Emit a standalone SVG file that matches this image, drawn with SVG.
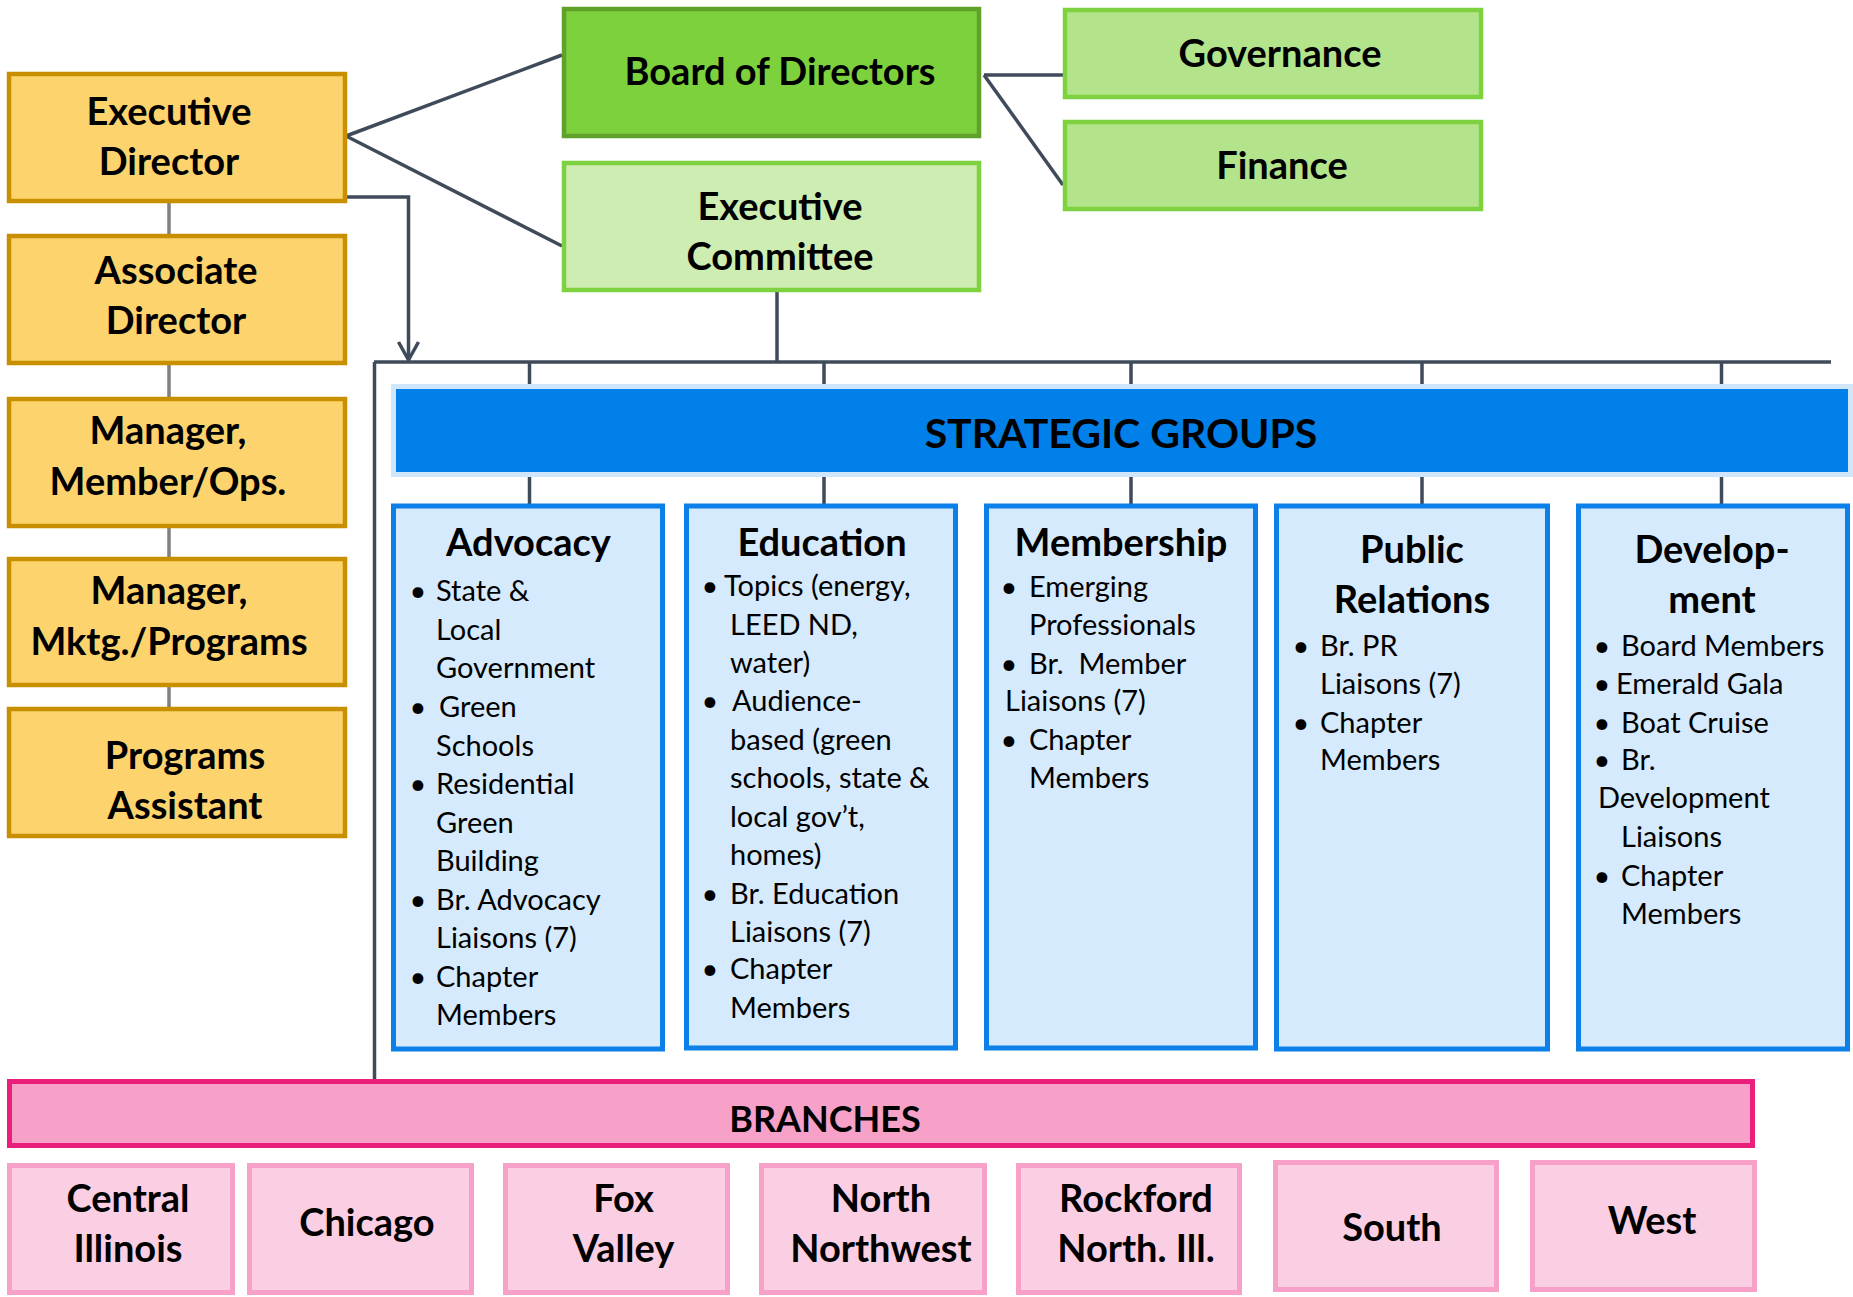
<svg xmlns="http://www.w3.org/2000/svg" width="1853" height="1297" viewBox="0 0 1853 1297">
<style>
.staff{fill:#fdd36d;stroke:#c89000;stroke-width:4.5}
.board{fill:#7dd13c;stroke:#5fa12b;stroke-width:4.5}
.ec{fill:#cdedb3;stroke:#7ed23f;stroke-width:4.5}
.comm{fill:#b3e38a;stroke:#7ed23f;stroke-width:4.5}
.col{fill:#d5eafc;stroke:#0a80e8;stroke-width:5}
.branchbar{fill:#f7a0c8;stroke:#ea1f7b;stroke-width:5}
.branch{fill:#fbcfe3;stroke:#f7a1c9;stroke-width:5}
.sgbar{fill:#0080e8;stroke:#cfe6fb;stroke-width:5}
.conn{fill:none;stroke:#3f4a5a;stroke-width:3.5}
.grey{fill:none;stroke:#808080;stroke-width:3.5}
.b{font-family:Lato,"Liberation Sans",sans-serif;font-weight:bold;font-size:38px;fill:#000;text-anchor:middle}
.t{font-family:Lato,"Liberation Sans",sans-serif;font-size:29px;fill:#000}
.bul{font-family:Lato,"Liberation Sans",sans-serif;font-size:29px;fill:#000;text-anchor:middle}
</style>

<g id="connectors">
<path class="conn" d="M346,136 L562,55" stroke-width="4.5"/>
<path class="conn" d="M346,136 L562,246" stroke-width="4.5"/>
<path class="conn" d="M347,197 H408.5 V360"/>
<path class="conn" d="M398.5,342 L408.5,360 L418.5,342"/>
<path class="conn" d="M984,75 H1063" stroke-width="5.5"/>
<path class="conn" d="M984,75 L1063,185" stroke-width="4"/>
<path class="conn" d="M777,292 V362" stroke-width="3"/>
<path class="conn" d="M374,362 H1831" stroke-width="4"/>
<path class="conn" d="M374.5,362 V1079" stroke-width="3"/>
<path class="conn" stroke-width="3" d="M529.5,362 V386 M824,362 V386 M1131,362 V386 M1422,362 V386 M1721.5,362 V386 M529.5,474 V504 M824,474 V504 M1131,474 V504 M1422,474 V504 M1721.5,474 V504"/>
<path class="grey" d="M169,203 V234 M169,365 V397 M169,528 V557 M169,687 V707"/>
</g>

<g id="executive-director">
<rect class="staff" x="9" y="74" width="336" height="127"/>
<text class="b" x="169" y="125">Executive</text>
<text class="b" x="169" y="175">Director</text>
</g>
<g id="associate-director">
<rect class="staff" x="9" y="236" width="336" height="127"/>
<text class="b" x="176" y="284">Associate</text>
<text class="b" x="176" y="334">Director</text>
</g>
<g id="manager-member-ops">
<rect class="staff" x="9" y="399" width="336" height="127"/>
<text class="b" x="168" y="444">Manager,</text>
<text class="b" x="168" y="495">Member/Ops.</text>
</g>
<g id="manager-mktg-programs">
<rect class="staff" x="9" y="559" width="336" height="126"/>
<text class="b" x="169" y="604">Manager,</text>
<text class="b" x="169" y="655">Mktg./Programs</text>
</g>
<g id="programs-assistant">
<rect class="staff" x="9" y="709" width="336" height="127"/>
<text class="b" x="185" y="769">Programs</text>
<text class="b" x="185" y="819">Assistant</text>
</g>

<g id="board-of-directors">
<rect class="board" x="564" y="9" width="415" height="127"/>
<text class="b" x="780" y="85">Board of Directors</text>
</g>
<g id="executive-committee">
<rect class="ec" x="564" y="163" width="415" height="127"/>
<text class="b" x="780" y="220">Executive</text>
<text class="b" x="780" y="270">Committee</text>
</g>
<g id="governance">
<rect class="comm" x="1065" y="10" width="416" height="87"/>
<text class="b" x="1280" y="67">Governance</text>
</g>
<g id="finance">
<rect class="comm" x="1065" y="122" width="416" height="87"/>
<text class="b" x="1282" y="179">Finance</text>
</g>

<g id="strategic-groups">
<rect class="sgbar" x="393.5" y="386.5" width="1457" height="88"/>
<text class="b" x="1121" y="448" style="font-size:41px">STRATEGIC GROUPS</text>
</g>

<g id="advocacy">
<rect class="col" x="393.5" y="506" width="269" height="543"/>
<text class="b" x="528.5" y="556">Advocacy</text>
<text class="bul" x="418" y="601">•</text><text class="t" x="436" y="601">State &amp;</text>
<text class="t" x="436" y="640">Local</text>
<text class="t" x="436" y="678">Government</text>
<text class="bul" x="418" y="717">•</text><text class="t" x="439" y="717">Green</text>
<text class="t" x="436" y="756">Schools</text>
<text class="bul" x="418" y="794">•</text><text class="t" x="436" y="794">Residential</text>
<text class="t" x="436" y="833">Green</text>
<text class="t" x="436" y="871">Building</text>
<text class="bul" x="418" y="910">•</text><text class="t" x="436" y="910">Br. Advocacy</text>
<text class="t" x="436" y="948">Liaisons (7)</text>
<text class="bul" x="418" y="987">•</text><text class="t" x="436" y="987">Chapter</text>
<text class="t" x="436" y="1025">Members</text>
</g>

<g id="education">
<rect class="col" x="686.5" y="506" width="269" height="542"/>
<text class="b" x="822" y="556">Education</text>
<text class="bul" x="710" y="596">•</text><text class="t" x="724" y="596">Topics (energy,</text>
<text class="t" x="730" y="635">LEED ND,</text>
<text class="t" x="730" y="673">water)</text>
<text class="bul" x="710" y="711">•</text><text class="t" x="732" y="711">Audience-</text>
<text class="t" x="730" y="750">based (green</text>
<text class="t" x="730" y="788">schools, state &amp;</text>
<text class="t" x="730" y="827">local gov’t,</text>
<text class="t" x="730" y="865">homes)</text>
<text class="bul" x="710" y="904">•</text><text class="t" x="730" y="904">Br. Education</text>
<text class="t" x="730" y="942">Liaisons (7)</text>
<text class="bul" x="710" y="979">•</text><text class="t" x="730" y="979">Chapter</text>
<text class="t" x="730" y="1018">Members</text>
</g>

<g id="membership">
<rect class="col" x="986.5" y="506" width="269" height="542"/>
<text class="b" x="1121" y="556">Membership</text>
<text class="bul" x="1009" y="597">•</text><text class="t" x="1029" y="597">Emerging</text>
<text class="t" x="1029" y="635">Professionals</text>
<text class="bul" x="1009" y="674">•</text><text class="t" x="1029" y="674" xml:space="preserve">Br.  Member</text>
<text class="t" x="1005" y="711">Liaisons (7)</text>
<text class="bul" x="1009" y="750">•</text><text class="t" x="1029" y="750">Chapter</text>
<text class="t" x="1029" y="788">Members</text>
</g>

<g id="public-relations">
<rect class="col" x="1276.5" y="506" width="271" height="543"/>
<text class="b" x="1412" y="563">Public</text>
<text class="b" x="1412" y="613">Relations</text>
<text class="bul" x="1301" y="656">•</text><text class="t" x="1320" y="656">Br. PR</text>
<text class="t" x="1320" y="694">Liaisons (7)</text>
<text class="bul" x="1301" y="733">•</text><text class="t" x="1320" y="733">Chapter</text>
<text class="t" x="1320" y="770">Members</text>
</g>

<g id="development">
<rect class="col" x="1578.5" y="506" width="269" height="543"/>
<text class="b" x="1712" y="563">Develop-</text>
<text class="b" x="1712" y="613">ment</text>
<text class="bul" x="1602" y="656">•</text><text class="t" x="1621" y="656">Board Members</text>
<text class="bul" x="1602" y="694">•</text><text class="t" x="1616" y="694">Emerald Gala</text>
<text class="bul" x="1602" y="733">•</text><text class="t" x="1621" y="733">Boat Cruise</text>
<text class="bul" x="1602" y="770">•</text><text class="t" x="1621" y="770">Br.</text>
<text class="t" x="1598" y="808">Development</text>
<text class="t" x="1621" y="847">Liaisons</text>
<text class="bul" x="1602" y="886">•</text><text class="t" x="1621" y="886">Chapter</text>
<text class="t" x="1621" y="924">Members</text>
</g>

<g id="branches">
<rect class="branchbar" x="9.5" y="1081.5" width="1743" height="64"/>
<text class="b" x="825" y="1132" style="font-size:36px">BRANCHES</text>
</g>
<g id="central-illinois">
<rect class="branch" x="9.5" y="1165.5" width="223" height="127"/>
<text class="b" x="128" y="1212">Central</text>
<text class="b" x="128" y="1262">Illinois</text>
</g>
<g id="chicago">
<rect class="branch" x="249.5" y="1165.5" width="222" height="127"/>
<text class="b" x="367" y="1236">Chicago</text>
</g>
<g id="fox-valley">
<rect class="branch" x="505.5" y="1165.5" width="222" height="127"/>
<text class="b" x="623.5" y="1212">Fox</text>
<text class="b" x="623.5" y="1262">Valley</text>
</g>
<g id="north-northwest">
<rect class="branch" x="761.5" y="1165.5" width="223" height="127"/>
<text class="b" x="881" y="1212">North</text>
<text class="b" x="881" y="1262">Northwest</text>
</g>
<g id="rockford-north-ill">
<rect class="branch" x="1018.5" y="1165.5" width="221" height="127"/>
<text class="b" x="1136" y="1212">Rockford</text>
<text class="b" x="1136" y="1262">North. Ill.</text>
</g>
<g id="south">
<rect class="branch" x="1275.5" y="1162.5" width="221" height="127"/>
<text class="b" x="1392" y="1241">South</text>
</g>
<g id="west">
<rect class="branch" x="1532.5" y="1162.5" width="222" height="127"/>
<text class="b" x="1652" y="1234">West</text>
</g>
</svg>
